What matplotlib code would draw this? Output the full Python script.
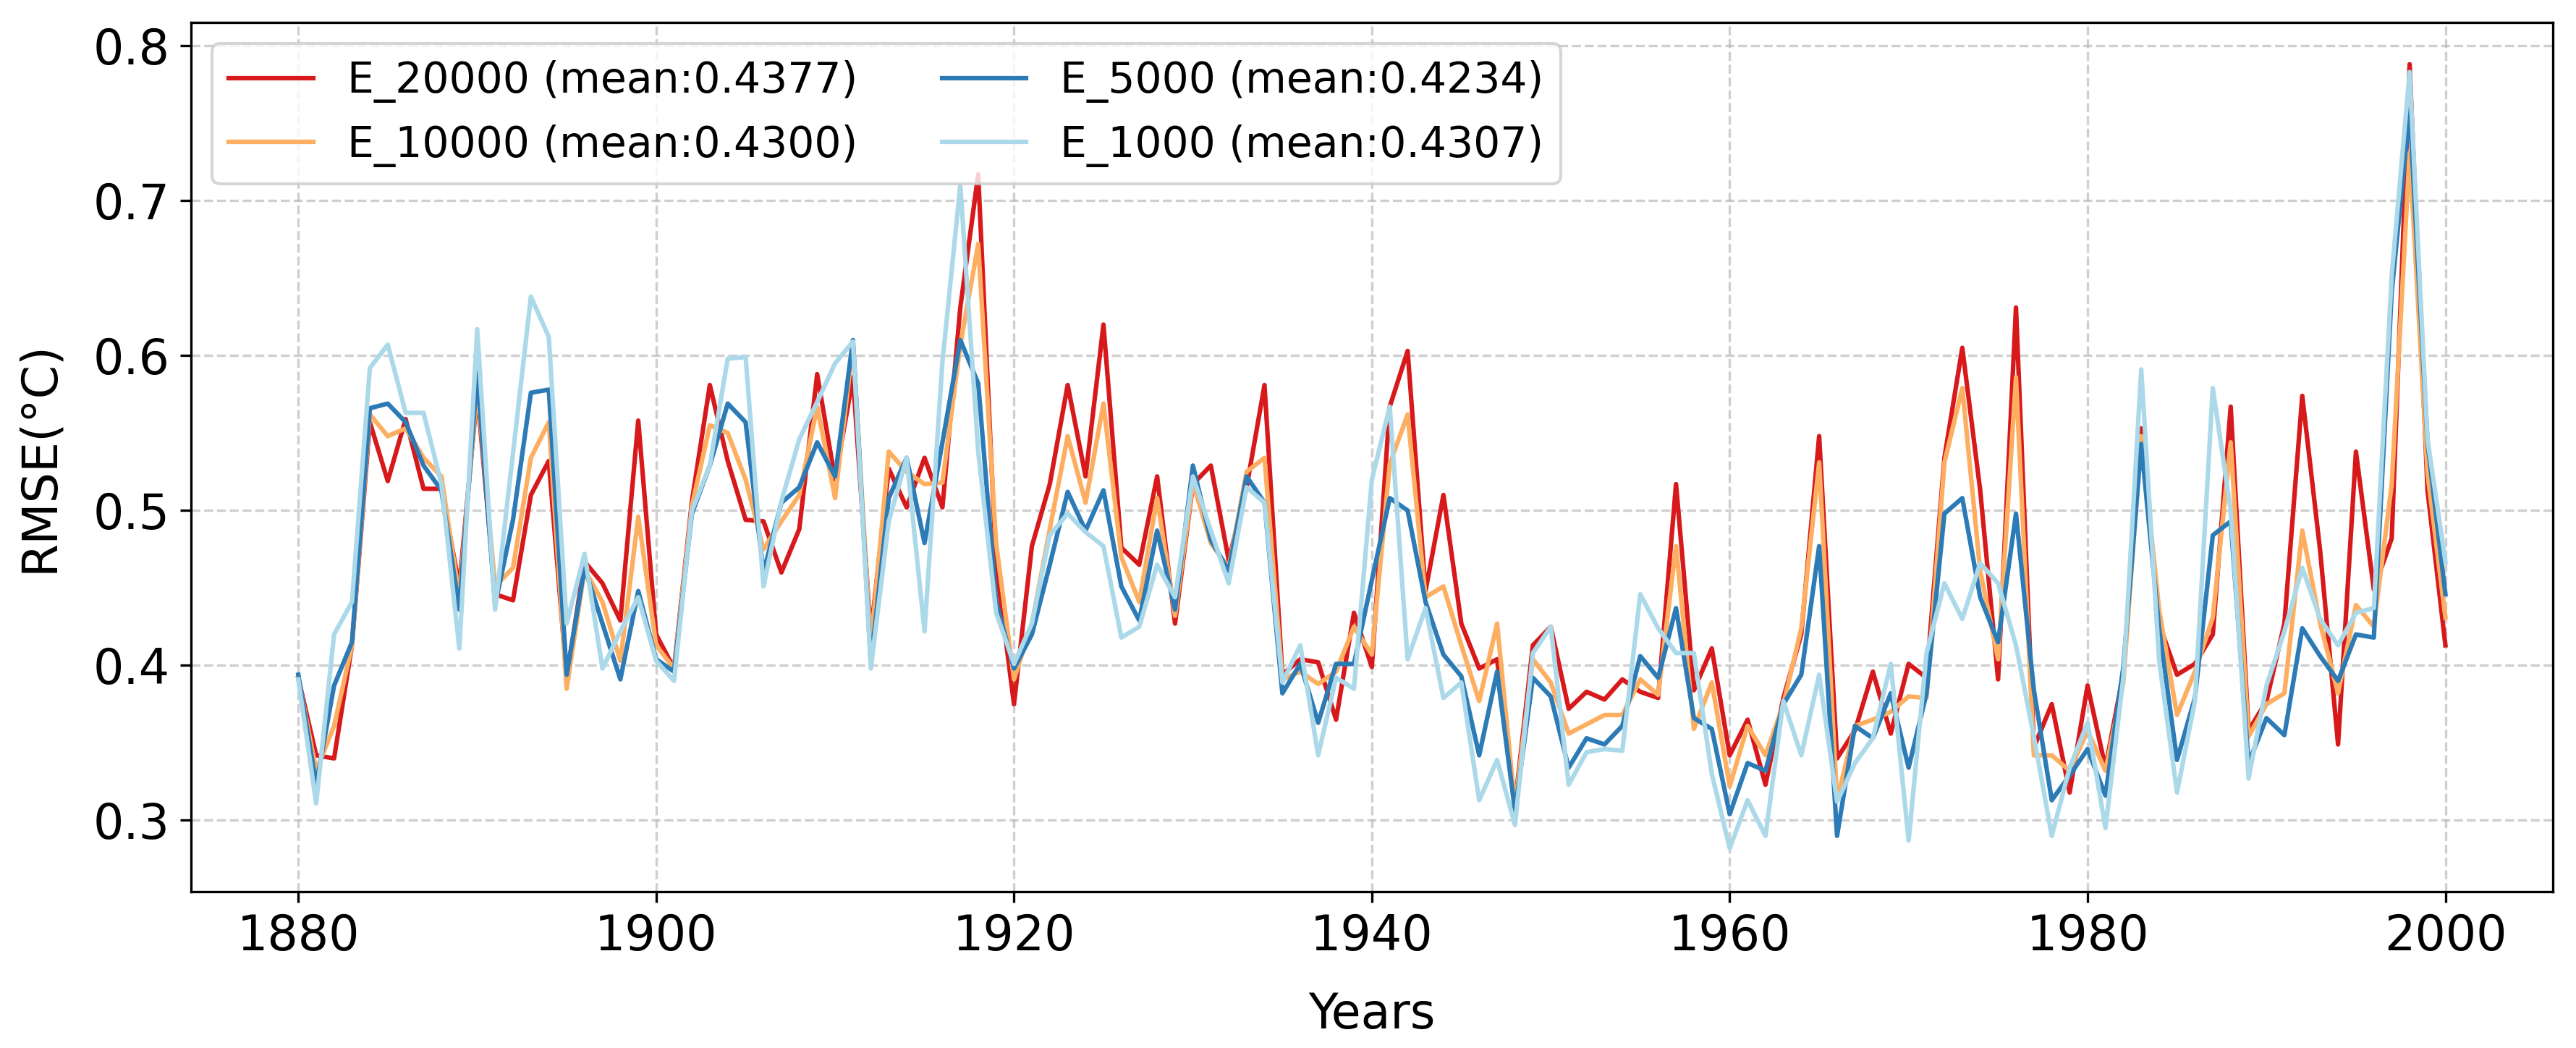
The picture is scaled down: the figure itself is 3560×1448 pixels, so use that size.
import matplotlib
matplotlib.use('Agg')
import matplotlib.pyplot as plt
import numpy as np

years = np.arange(1880, 2001)

# E_20000
e_20000 = [0.392, 0.342, 0.340, 0.413, 0.557, 0.519, 0.559, 0.514, 0.514, 0.451,
           0.576, 0.446, 0.442, 0.510, 0.532, 0.392, 0.467, 0.453, 0.429, 0.558,
           0.420, 0.398, 0.506, 0.581, 0.532, 0.494, 0.493, 0.460, 0.488, 0.588,
           0.520, 0.586, 0.420, 0.527, 0.502, 0.534, 0.502, 0.631, 0.717, 0.465,
           0.375, 0.477, 0.517, 0.581, 0.522, 0.620, 0.476, 0.465, 0.522, 0.427,
           0.517, 0.529, 0.468, 0.515, 0.581, 0.394, 0.404, 0.402, 0.365, 0.434,
           0.399, 0.567, 0.603, 0.448, 0.510, 0.427, 0.398, 0.404, 0.310, 0.413,
           0.425, 0.372, 0.383, 0.378, 0.391, 0.383, 0.379, 0.517, 0.384, 0.411,
           0.342, 0.365, 0.323, 0.379, 0.420, 0.548, 0.340, 0.358, 0.396, 0.356,
           0.401, 0.392, 0.534, 0.605, 0.513, 0.391, 0.631, 0.347, 0.375, 0.318,
           0.387, 0.334, 0.395, 0.553, 0.427, 0.394, 0.401, 0.420, 0.567, 0.358,
           0.377, 0.427, 0.574, 0.474, 0.349, 0.538, 0.449, 0.482, 0.788, 0.513,
           0.413]

# E_10000
e_10000 = [0.392, 0.332, 0.361, 0.413, 0.562, 0.548, 0.553, 0.534, 0.522, 0.444,
           0.580, 0.451, 0.463, 0.534, 0.557, 0.385, 0.462, 0.441, 0.403, 0.496,
           0.413, 0.398, 0.503, 0.555, 0.550, 0.520, 0.475, 0.493, 0.510, 0.567,
           0.508, 0.607, 0.413, 0.538, 0.525, 0.517, 0.518, 0.607, 0.672, 0.479,
           0.391, 0.427, 0.488, 0.548, 0.505, 0.569, 0.470, 0.441, 0.508, 0.432,
           0.518, 0.479, 0.463, 0.525, 0.534, 0.391, 0.396, 0.388, 0.396, 0.425,
           0.407, 0.530, 0.562, 0.444, 0.451, 0.413, 0.377, 0.427, 0.309, 0.404,
           0.389, 0.356, 0.362, 0.368, 0.368, 0.391, 0.381, 0.477, 0.359, 0.389,
           0.322, 0.361, 0.342, 0.375, 0.424, 0.531, 0.313, 0.361, 0.365, 0.370,
           0.380, 0.379, 0.531, 0.579, 0.461, 0.404, 0.586, 0.342, 0.342, 0.332,
           0.358, 0.332, 0.389, 0.548, 0.436, 0.368, 0.396, 0.431, 0.544, 0.354,
           0.375, 0.382, 0.487, 0.427, 0.382, 0.439, 0.425, 0.517, 0.731, 0.524,
           0.431]

# E_5000
e_5000 = [0.394, 0.323, 0.387, 0.415, 0.566, 0.569, 0.557, 0.529, 0.513, 0.436,
          0.589, 0.439, 0.494, 0.576, 0.578, 0.394, 0.463, 0.427, 0.391, 0.448,
          0.404, 0.396, 0.498, 0.529, 0.569, 0.557, 0.460, 0.505, 0.515, 0.544,
          0.522, 0.610, 0.401, 0.508, 0.534, 0.479, 0.544, 0.610, 0.582, 0.441,
          0.398, 0.420, 0.465, 0.512, 0.487, 0.513, 0.451, 0.429, 0.487, 0.436,
          0.529, 0.481, 0.461, 0.522, 0.505, 0.382, 0.401, 0.363, 0.401, 0.401,
          0.455, 0.508, 0.500, 0.441, 0.407, 0.393, 0.342, 0.396, 0.306, 0.392,
          0.380, 0.334, 0.353, 0.349, 0.361, 0.406, 0.392, 0.437, 0.366, 0.359,
          0.304, 0.337, 0.332, 0.375, 0.394, 0.477, 0.290, 0.361, 0.353, 0.382,
          0.334, 0.382, 0.498, 0.508, 0.444, 0.415, 0.498, 0.384, 0.313, 0.329,
          0.346, 0.316, 0.399, 0.543, 0.424, 0.339, 0.379, 0.484, 0.493, 0.337,
          0.366, 0.355, 0.424, 0.406, 0.390, 0.420, 0.418, 0.641, 0.759, 0.544,
          0.446]

# E_1000
e_1000 = [0.391, 0.311, 0.420, 0.441, 0.592, 0.607, 0.563, 0.563, 0.517, 0.411,
          0.617, 0.436, 0.537, 0.638, 0.612, 0.427, 0.472, 0.398, 0.422, 0.444,
          0.403, 0.390, 0.500, 0.529, 0.598, 0.599, 0.451, 0.506, 0.546, 0.570,
          0.595, 0.609, 0.398, 0.493, 0.534, 0.422, 0.596, 0.710, 0.538, 0.434,
          0.401, 0.427, 0.484, 0.498, 0.486, 0.477, 0.418, 0.425, 0.465, 0.444,
          0.522, 0.487, 0.453, 0.515, 0.505, 0.389, 0.413, 0.342, 0.392, 0.385,
          0.520, 0.567, 0.404, 0.437, 0.379, 0.389, 0.313, 0.339, 0.297, 0.408,
          0.425, 0.323, 0.344, 0.346, 0.345, 0.446, 0.424, 0.408, 0.408, 0.330,
          0.282, 0.313, 0.290, 0.377, 0.342, 0.394, 0.312, 0.337, 0.353, 0.401,
          0.287, 0.408, 0.453, 0.430, 0.466, 0.453, 0.413, 0.354, 0.290, 0.334,
          0.363, 0.295, 0.392, 0.591, 0.403, 0.318, 0.377, 0.579, 0.500, 0.327,
          0.387, 0.422, 0.463, 0.430, 0.413, 0.434, 0.437, 0.652, 0.783, 0.546,
          0.467]

labels = ['E_20000 (mean:0.4377)', 'E_10000 (mean:0.4300)',
          'E_5000 (mean:0.4234)', 'E_1000 (mean:0.4307)']
colors = ['#d7191c', '#fdae61', '#2c7bb6', '#abd9e9']

fig = plt.figure(figsize=(3561 / 300, 1448 / 300), dpi=300)
ax = fig.add_axes([0.0741, 0.1492, 0.9166, 0.8294])

for vals, lab, c in zip([e_20000, e_10000, e_5000, e_1000], labels, colors):
    ax.plot(years, vals, color=c, lw=1.5, label=lab)

ax.set_xlim(1874, 2006)
ax.set_ylim(0.254, 0.815)
ax.set_xticks([1880, 1900, 1920, 1940, 1960, 1980, 2000])
ax.set_yticks([0.3, 0.4, 0.5, 0.6, 0.7, 0.8])
ax.tick_params(labelsize=16)
ax.grid(True, linestyle='--', alpha=0.6)
ax.set_xlabel('Years', fontsize=16, labelpad=10)
ax.set_ylabel('RMSE(°C)', fontsize=16, labelpad=10)
ax.legend(loc='upper left', ncol=2, fontsize=14)

fig.savefig('out.png', dpi=300)
